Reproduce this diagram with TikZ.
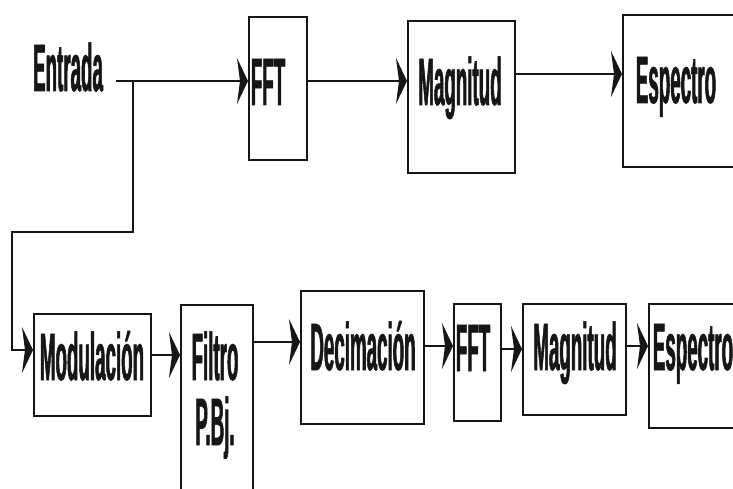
\documentclass[tikz,border=0pt]{standalone}
\usepackage{fontspec}
\newfontfamily\cond[FakeStretch=0.28,FakeBold=0.8]{Liberation Sans Bold}
\usetikzlibrary{arrows.meta}
\definecolor{ink}{HTML}{161616}
\tikzset{
  blk/.style={draw=ink, line width=2.4pt, rectangle, inner sep=0pt, anchor=north west},
  lbl/.style={font=\cond\fontsize{67}{67}\selectfont, inner sep=0pt, anchor=base, text=ink},
  conn/.style={draw=ink, line width=2.8pt, -{Stealth[length=11pt,width=46pt,inset=3pt]}},
}
\begin{document}
\begin{tikzpicture}[x=1pt,y=-1pt]
\useasboundingbox (0,0) rectangle (733,489);
\fill[white] (0,0) rectangle (733,489);
\clip (0,0) rectangle (733,489);
% boxes
\node[blk, minimum width=58pt, minimum height=143pt] (fft1) at (248,16) {};
\node[blk, minimum width=107pt, minimum height=152pt] (mag1) at (407,20) {};
\node[blk, minimum width=150pt, minimum height=152pt] (spec1) at (622,14) {};
\node[blk, minimum width=117pt, minimum height=102pt] (mod) at (33,313) {};
\node[blk, minimum width=72pt, minimum height=200pt] (filt) at (180,304) {};
\node[blk, minimum width=123pt, minimum height=133pt] (dec) at (300,290) {};
\node[blk, minimum width=47pt, minimum height=117pt] (fft2) at (453,303) {};
\node[blk, minimum width=103pt, minimum height=111pt] (mag2) at (522,303) {};
\node[blk, minimum width=120pt, minimum height=124pt] (spec2) at (648,303) {};
% labels
\node[lbl] (entrada) at (68,91) {Entrada};
\node[lbl] (fft1t) at (268,105) {FFT};
\node[lbl] (mag1t) at (460,105) {Magnitud};
\node[lbl] (spec1t) at (676,103) {Espectro};
\node[lbl] (modt) at (92,380) {Modulación};
\node[lbl] (filtt) at (215,380) {Filtro};
\node[lbl] (pbjt) at (215,445) {P.Bj.};
\node[lbl] (dect) at (363,370) {Decimación};
\node[lbl] (fft2t) at (473,371) {FFT};
\node[lbl] (mag2t) at (575,370) {Magnitud};
\node[lbl] (spec2t) at (693,370) {Espectro};
% connectors
\coordinate (inL) at (116,81);
\coordinate (br) at (133,81);
\coordinate (c1) at (12,232);
\coordinate (c2) at (12,350);
\draw[conn] (inL) -- (fft1.west |- inL);
\draw[conn] (br) |- (c1) |- (mod.west |- c2);
\draw[conn] (fft1.east |- 0,81) -- (mag1.west |- 0,81);
\draw[conn] (mag1.east |- 0,74) -- (spec1.west |- 0,74);
\draw[conn] (mod.east |- 0,355) -- (filt.west |- 0,355);
\draw[conn] (filt.east |- 0,342) -- (dec.west |- 0,342);
\draw[conn] (dec.east |- 0,346) -- (fft2.west |- 0,346);
\draw[conn] (fft2.east |- 0,349) -- (mag2.west |- 0,349);
\draw[conn] (mag2.east |- 0,346) -- (spec2.west |- 0,346);
\end{tikzpicture}
\end{document}
